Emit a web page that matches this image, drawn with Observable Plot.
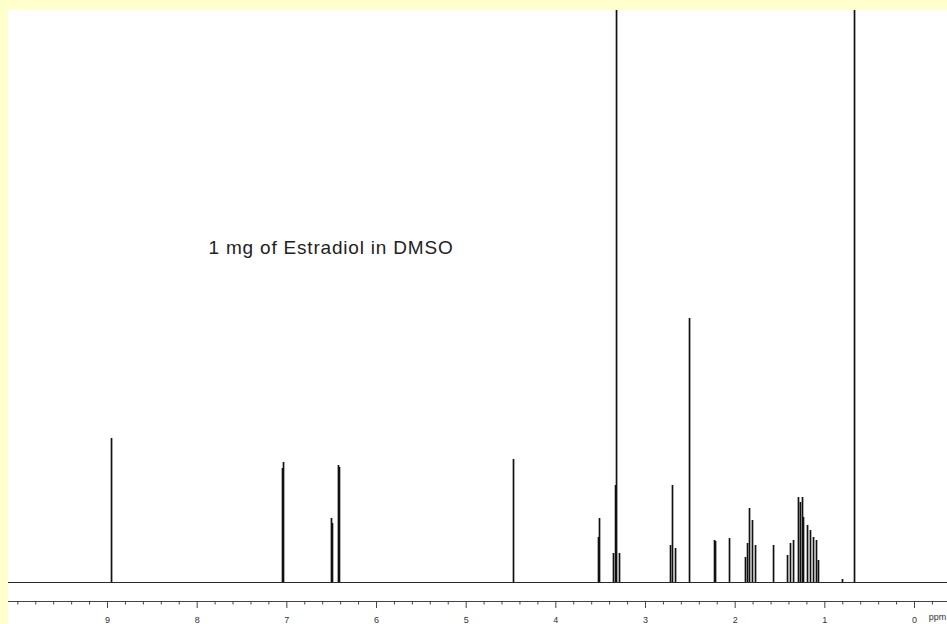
<!DOCTYPE html>
<html>
<head>
<meta charset="utf-8">
<script src="https://cdn.jsdelivr.net/npm/d3@7"></script>
<script src="https://cdn.jsdelivr.net/npm/@observablehq/plot@0.6"></script>
<style>
  html, body { margin: 0; padding: 0; background: #ffffcc; }
  body { width: 947px; height: 624px; overflow: hidden; position: relative; }
  #chart { position: absolute; left: 8px; top: 10px; width: 939px; height: 614px; background: #ffffff; }
  #chart svg { display: block; background: #ffffff; }
</style>
</head>
<body>
<div id="chart"></div>
<script>
// Chemical shift (ppm) of each resolved line and its intensity (arbitrary units)
const peakPpm = [
  8.955, 7.048, 7.037, 6.502, 6.491, 6.424, 6.413, 4.472,
  3.524, 3.513, 3.357, 3.334, 3.323, 3.290,
  2.721, 2.699, 2.665, 2.509, 2.230, 2.219, 2.063,
  1.885, 1.862, 1.840, 1.807, 1.773, 1.572,
  1.416, 1.383, 1.349, 1.294, 1.272, 1.249, 1.238, 1.193, 1.160, 1.126, 1.093, 1.071,
  0.803, 0.669
];
const peakInt = [
  144, 114, 120, 64, 59, 117, 115, 123,
  45, 64, 29, 97, 700, 29,
  37, 97, 34, 264, 42, 41, 44,
  25, 39, 74, 62, 37, 37,
  27, 39, 42, 85, 80, 85, 65, 57, 52, 45, 42, 22,
  3, 700
];
const majorTicks = [0, 1, 2, 3, 4, 5, 6, 7, 8, 9];
const minorTicks = d3.range(-1, 51).filter(i => i % 5 !== 0 || i === 50).map(i => i / 5);
const titleText = "1 mg of Estradiol in DMSO";
const unitLabel = "ppm";

const peaks = peakPpm.map((p, i) => ({ppm: p, h: peakInt[i]}));

const chart = Plot.plot({
  width: 939,
  height: 614,
  marginTop: 0,
  marginLeft: 0,
  marginRight: 0,
  marginBottom: 23,
  style: {fontFamily: "'Liberation Sans', Arial, Helvetica, sans-serif", background: "#ffffff"},
  x: {domain: [10.104, -0.368], label: null},
  y: {domain: [-19, 572], axis: null, label: null},
  marks: [
    Plot.ruleY([0], {stroke: "#2a2a2a", strokeWidth: 1.2}),
    Plot.ruleX(peaks, {x: "ppm", y1: 0, y2: "h", stroke: "#111111", strokeWidth: 1.7, clip: true}),
    Plot.frame({anchor: "bottom", stroke: "#444444"}),
    Plot.axisX(minorTicks, {tickSize: 3.5, tickFormat: () => "", stroke: "#444444", label: null}),
    Plot.axisX(majorTicks, {tickSize: 7, tickPadding: 8, fontSize: 9, fill: "#333333", stroke: "#444444", tickFormat: d => String(d), label: null}),
    Plot.text([unitLabel], {x: -0.16, frameAnchor: "bottom", dy: 18, textAnchor: "start", fontSize: 9, fill: "#333333"}),
    Plot.text([titleText], {x: 7.873, y: 335, textAnchor: "start", fontSize: 19, fill: "#222222"})
  ]
});
d3.select(chart).selectAll("text")
  .filter(function() { return this.textContent === titleText; })
  .attr("letter-spacing", "0.8px");
document.getElementById("chart").appendChild(chart);
</script>
</body>
</html>
